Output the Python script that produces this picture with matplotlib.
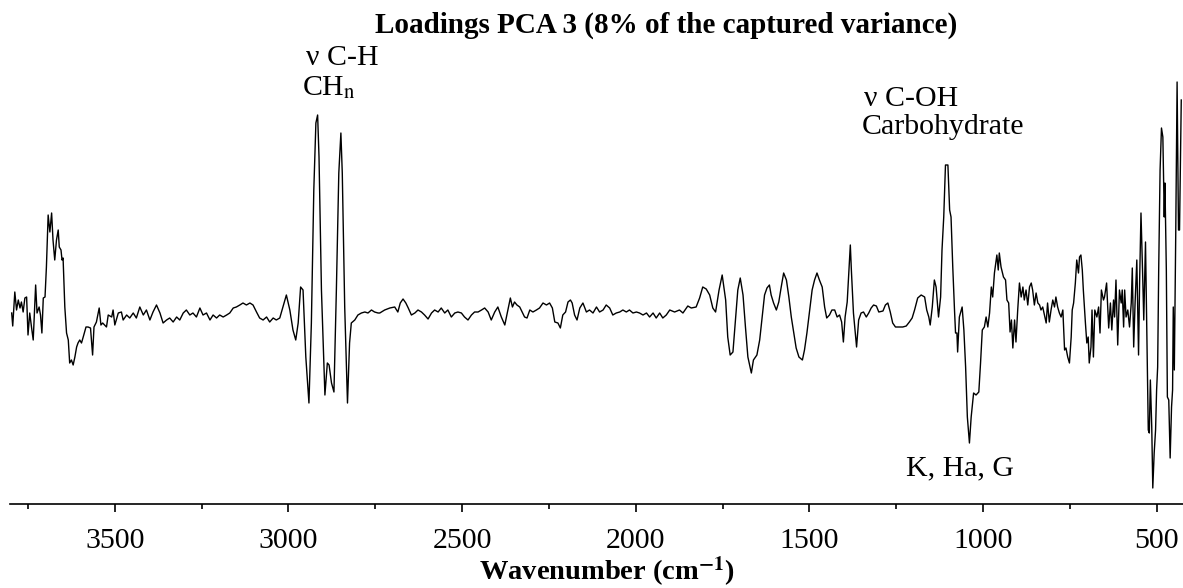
import matplotlib
matplotlib.use("Agg")
import matplotlib.pyplot as plt
import numpy as np

# wavenumber (cm-1) and PCA 3 loading (x1e-3)
wavenumber = [
    3797, 3794, 3788, 3783, 3778, 3773, 3769, 3764, 3759, 3754, 3750, 3745, 3740, 3735, 3728,
    3724, 3718, 3714, 3710, 3706, 3701, 3697, 3692, 3687, 3682, 3678, 3673, 3668, 3663, 3660,
    3655, 3652, 3649, 3644, 3639, 3634, 3630, 3625, 3620, 3615, 3610, 3606, 3601, 3596, 3591,
    3583, 3577, 3570, 3564, 3560, 3553, 3545, 3540, 3535, 3524, 3519, 3509, 3505, 3500, 3490,
    3481, 3476, 3466, 3457, 3447, 3438, 3428, 3418, 3409, 3399, 3390, 3380, 3370, 3361, 3351,
    3342, 3332, 3322, 3313, 3303, 3294, 3284, 3275, 3265, 3255, 3246, 3236, 3226, 3217, 3207,
    3198, 3188, 3178, 3169, 3159, 3150, 3140, 3131, 3121, 3111, 3102, 3092, 3083, 3073, 3063,
    3054, 3044, 3035, 3025, 3016, 3006, 2996, 2987, 2979, 2972, 2965, 2958, 2950, 2941, 2934,
    2927, 2921, 2916, 2912, 2905, 2895, 2888, 2883, 2876, 2869, 2862, 2855, 2849, 2845, 2838,
    2830, 2824, 2819, 2809, 2800, 2790, 2780, 2771, 2761, 2752, 2742, 2737, 2723, 2708, 2694,
    2685, 2678, 2670, 2662, 2655, 2646, 2636, 2627, 2617, 2608, 2598, 2588, 2579, 2569, 2560,
    2550, 2541, 2531, 2521, 2512, 2502, 2493, 2483, 2473, 2464, 2454, 2444, 2435, 2425, 2416,
    2406, 2397, 2387, 2377, 2368, 2361, 2355, 2349, 2342, 2334, 2327, 2320, 2313, 2305, 2296,
    2286, 2277, 2267, 2257, 2248, 2240, 2233, 2224, 2217, 2210, 2202, 2195, 2188, 2183, 2176,
    2169, 2161, 2152, 2142, 2133, 2123, 2113, 2104, 2094, 2085, 2075, 2066, 2056, 2046, 2037,
    2027, 2018, 2008, 1998, 1989, 1979, 1969, 1960, 1950, 1941, 1931, 1922, 1912, 1902, 1888,
    1874, 1864, 1850, 1840, 1826, 1816, 1807, 1797, 1787, 1778, 1770, 1760, 1751, 1741, 1735,
    1728, 1720, 1712, 1706, 1699, 1691, 1684, 1677, 1667, 1661, 1651, 1643, 1636, 1629, 1622,
    1615, 1610, 1603, 1595, 1588, 1581, 1574, 1566, 1559, 1552, 1546, 1538, 1530, 1520, 1514,
    1507, 1499, 1492, 1485, 1478, 1471, 1463, 1456, 1450, 1442, 1435, 1427, 1420, 1413, 1407,
    1402, 1397, 1391, 1386, 1382, 1379, 1373, 1364, 1358, 1351, 1344, 1336, 1329, 1322, 1315,
    1307, 1300, 1288, 1281, 1274, 1267, 1260, 1252, 1240, 1231, 1221, 1212, 1204, 1197, 1188,
    1178, 1168, 1162, 1156, 1152, 1146, 1140, 1135, 1128, 1122, 1118, 1113, 1108, 1101, 1096,
    1092, 1087, 1082, 1079, 1075, 1073, 1068, 1060, 1055, 1050, 1045, 1039, 1034, 1027, 1020,
    1012, 1007, 1002, 996, 991, 986, 981, 976, 972, 967, 960, 956, 953, 948, 941,
    935, 931, 926, 922, 918, 914, 909, 905, 900, 895, 890, 885, 881, 876, 871,
    866, 861, 857, 852, 847, 842, 837, 833, 828, 823, 818, 814, 809, 804, 799,
    794, 790, 785, 780, 775, 770, 765, 761, 756, 751, 746, 743, 739, 734, 730,
    725, 722, 718, 714, 711, 705, 701, 697, 694, 689, 686, 682, 678, 672, 667,
    663, 659, 653, 650, 644, 638, 633, 629, 624, 621, 617, 612, 607, 602, 599,
    595, 592, 588, 583, 578, 573, 570, 566, 562, 557, 552, 549, 545, 540, 537,
    532, 528, 524, 521, 518, 514, 511, 507, 503, 500, 497, 494, 490, 486, 482,
    478, 476, 472, 469, 465, 461, 457, 454, 452, 449, 445, 441, 437, 434, 429,
]
loading_milli = [
    5, -8, 26, 8, 18, 10, 16, 6, 20, 21, -17, 5, -9, -22, 33,
    5, 11, 3, -15, 20, 21, 51, 103, 86, 105, 78, 58, 78, 88, 71,
    68, 58, 60, 11, -15, -22, -45, -42, -47, -39, -29, -25, -22, -25, -19,
    -9, -9, -10, -37, -9, -4, 10, -7, -5, -9, 3, 1, 8, -7, 5,
    6, -2, 3, 0, 5, 0, 11, 3, 8, -2, 6, 13, 5, -5, -2,
    0, -4, 1, -2, 5, 8, 3, 5, 1, 10, 3, 5, -2, 3, 0,
    3, 1, 3, 5, 10, 11, 13, 15, 13, 15, 13, 6, 0, -2, 1,
    -4, 0, -2, 0, 11, 23, 8, -12, -22, -5, 31, 28, -39, -85, -5,
    128, 195, 203, 161, 28, -77, -45, -47, -65, -74, 28, 145, 185, 145, 11,
    -85, -25, -5, -2, 3, 5, 6, 5, 8, 6, 5, 5, 8, 10, 11,
    6, 15, 19, 15, 10, 3, 5, 8, 6, 3, -1, 5, 8, 6, 10,
    5, 8, 1, 5, 6, 5, 1, -2, 3, 6, 6, 8, 10, 6, -2,
    6, 11, 1, -7, 8, 20, 11, 16, 13, 11, 6, 1, 0, 8, 6,
    8, 10, 15, 13, 15, 10, -4, -5, -10, 3, 6, 16, 18, 15, 3,
    -2, 10, 15, 6, 8, 5, 11, 6, 8, 13, 10, 3, 5, 6, 8,
    6, 8, 5, 6, 5, 3, 5, 1, 5, 0, 5, 0, 3, 8, 6,
    8, 5, 12, 10, 11, 20, 31, 29, 23, 10, 6, 28, 43, 18, -19,
    -37, -34, 1, 28, 40, 23, -9, -39, -55, -42, -37, -22, 1, 23, 30,
    33, 23, 15, 8, 16, 31, 45, 38, 21, 1, -12, -30, -39, -42, -32,
    -15, 8, 28, 38, 45, 38, 31, 11, 0, 3, 8, 8, 1, 3, -4,
    -24, 1, 16, 48, 73, 48, 5, -29, -2, 5, 6, 1, 5, 10, 13,
    12, 6, 7, 13, 15, 6, -5, -9, -9, -9, -8, -4, 0, 8, 20,
    23, 21, 8, 1, -7, 11, 38, 31, 1, 21, 68, 101, 153, 153, 108,
    101, 51, 8, -15, -15, -34, 1, 11, -12, -49, -99, -125, -99, -75, -77,
    -74, -45, -12, -9, 1, -9, 5, 31, 21, 45, 63, 48, 65, 51, 41,
    38, 18, 15, -14, -2, -30, -2, -24, 8, 35, 21, 31, 18, 28, 13,
    31, 35, 28, 13, 25, 15, 13, 8, 11, 3, -5, 15, -4, 8, 18,
    11, 21, 11, 5, 1, 8, -32, -30, -39, -45, -19, 8, 15, 35, 58,
    45, 61, 63, 48, 28, -5, -25, -19, -45, -29, 8, -39, 8, 1, 11,
    -15, 28, 18, 21, 35, -10, 15, -12, 18, 1, 38, -27, 28, 15, 28,
    -9, 28, 1, 8, -9, 15, 50, -29, 15, 58, -37, 35, 105, 41, -2,
    76, -19, -112, -115, -62, -109, -170, -135, -112, -72, -49, 48, 148, 190, 181,
    101, 135, 48, -79, -82, -140, -89, -72, 11, -52, 81, 236, 88, 88, 218,
]

title = "Loadings PCA 3 (8% of the captured variance)"
xlabel = r"Wavenumber (cm$^{\mathbf{-1}}$)"
x_ticks = [3500, 3000, 2500, 2000, 1500, 1000, 500]

plt.rcParams["font.family"] = ["Liberation Serif", "DejaVu Serif"]
plt.rcParams["mathtext.fontset"] = "stix"

W, H = 1183, 588
fig = plt.figure(figsize=(W / 100, H / 100), dpi=100)
ax = fig.add_axes([9.6 / W, 1 - 504 / H, 1 - 9.6 / W, (504 - 40) / H])

wn = np.array(wavenumber, dtype=float)
ld = np.array(loading_milli, dtype=float) / 1000.0
ax.plot(wn, ld, color="black", lw=1.0)

ax.set_xlim(3803, 424)
ax.set_ylim(-0.186, 0.278)
ax.set_xticks(x_ticks)
ax.set_xticks(np.arange(3750, 424, -500), minor=True)
ax.tick_params(axis="x", which="major", length=6, width=1.2, labelsize=21.5, pad=11)
ax.tick_params(axis="x", which="minor", length=3.5, width=1.2)
ax.set_yticks([])
for s in ("left", "right", "top"):
    ax.spines[s].set_visible(False)
ax.spines["bottom"].set_linewidth(1.2)
ax.patch.set_visible(False)

fig.text(666 / W, 1 - 25 / H, title, ha="center", va="center",
         fontsize=21, fontweight="bold")
fig.text(607 / W, 1 - 572 / H, xlabel, ha="center", va="center",
         fontsize=20.5, fontweight="bold")

# band assignments
fig.text(306 / W, 1 - 58 / H, "ν C-H", ha="left", va="center", fontsize=21.5)
fig.text(302 / W, 1 - 88 / H, r"CH$_\mathrm{n}$", ha="left", va="center", fontsize=21.5)
fig.text(864 / W, 1 - 99 / H, "ν C-OH", ha="left", va="center", fontsize=21.5)
fig.text(862 / W, 1 - 127 / H, "Carbohydrate", ha="left", va="center", fontsize=21.5)
fig.text(906 / W, 1 - 468 / H, "K, Ha, G", ha="left", va="center", fontsize=21.5)

fig.savefig("out.png", dpi=100)
